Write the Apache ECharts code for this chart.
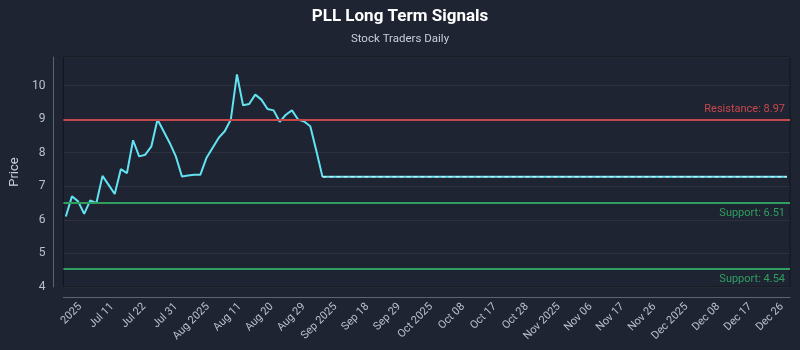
<!DOCTYPE html>
<html>
<head>
<meta charset="utf-8">
<script src="https://cdn.jsdelivr.net/npm/echarts@6/dist/echarts.min.js"></script>
<style>
  html, body { margin: 0; padding: 0; background: #1f2433; }
  #chart { width: 800px; height: 350px; }
</style>
</head>
<body>
<div id="chart"></div>
<script>
// x labels as they appear under the axis (one every ~5 trading steps)
const tickLabels = ["2025", "Jul 11", "Jul 22", "Jul 31", "Aug 2025", "Aug 11", "Aug 20", "Aug 29",
  "Sep 2025", "Sep 18", "Sep 29", "Oct 2025", "Oct 08", "Oct 17", "Oct 28", "Nov 2025",
  "Nov 06", "Nov 17", "Nov 26", "Dec 2025", "Dec 08", "Dec 17", "Dec 26"];

// daily closes, one per step
const history = [6.10, 6.70, 6.55, 6.18, 6.58, 6.50, 7.31, 7.04, 6.77, 7.51,
  7.39, 8.37, 7.89, 7.94, 8.19, 8.99, 8.64, 8.29, 7.89, 7.29,
  7.32, 7.34, 7.34, 7.84, 8.14, 8.44, 8.64, 8.99, 10.33, 9.41,
  9.45, 9.73, 9.58, 9.30, 9.26, 8.92, 9.13, 9.26, 8.99, 8.93,
  8.79, 8.05, 7.28];

// flat projection [step, price]
const projection = [[42, 7.28], [118, 7.28]];

const resistance = 8.97;
const supports = [6.51, 4.54];

const FONT = "Roboto";
const chart = echarts.init(document.getElementById("chart"), null, { renderer: "canvas" });

const levelLine = (value, color, label, pos) => ({
  yAxis: value,
  lineStyle: { color: color, width: 2, type: "solid" },
  label: {
    show: true,
    position: pos,
    formatter: label,
    color: color,
    fontSize: 11,
    fontFamily: FONT,
  },
});

chart.setOption({
  backgroundColor: "#1f2433",
  animation: false,
  textStyle: { fontFamily: FONT },
  title: {
    text: "PLL Long Term Signals",
    subtext: "Stock Traders Daily",
    left: "center",
    top: 3,
    itemGap: 8,
    textStyle: { color: "#ffffff", fontSize: 17, fontWeight: "bold", fontFamily: FONT },
    subtextStyle: { color: "#c9ced8", fontSize: 11.5, fontFamily: FONT },
  },
  grid: {
    left: 60,
    right: 10,
    top: 57,
    bottom: 63,
    show: true,
    borderColor: "#12151d",
    borderWidth: 1,
    backgroundColor: "transparent",
  },
  xAxis: [
    {
      // data steps
      type: "value",
      min: -0.4,
      max: 118.5,
      show: false,
      splitLine: { show: false },
    },
    {
      // date labels
      type: "value",
      position: "bottom",
      offset: 10,
      min: -0.53,
      max: 22.25,
      axisLine: { show: true, onZero: false, lineStyle: { color: "#5d6476", width: 1 } },
      axisTick: { show: false },
      splitLine: { show: false },
      axisLabel: {
        customValues: tickLabels.map((_, i) => i),
        formatter: (v) => tickLabels[Math.round(v)],
        rotate: 45,
        color: "#b9c0cc",
        fontSize: 11,
        margin: 8,
      },
    },
  ],
  yAxis: {
    type: "value",
    min: 4,
    max: 10.85,
    interval: 1,
    offset: 10,
    name: "Price",
    nameLocation: "middle",
    nameGap: 30,
    nameTextStyle: { color: "#c9ced8", fontSize: 13 },
    axisLine: { show: true, onZero: false, lineStyle: { color: "#5d6476", width: 1 } },
    axisTick: { show: false },
    axisLabel: { color: "#b9c0cc", fontSize: 12, showMaxLabel: false, margin: 8 },
    splitLine: { show: true, lineStyle: { color: "rgba(255,255,255,0.06)", width: 1 } },
  },
  series: [
    {
      name: "Price",
      type: "line",
      xAxisIndex: 0,
      data: history.map((v, i) => [i, v]),
      showSymbol: false,
      lineStyle: { color: "#62e3f2", width: 2 },
      z: 3,
      markLine: {
        symbol: "none",
        silent: true,
        data: [
          levelLine(resistance, "#c8474b", "Resistance: " + resistance, "insideEndTop"),
          levelLine(supports[0], "#2f9e5e", "Support: " + supports[0], "insideEndBottom"),
          levelLine(supports[1], "#2f9e5e", "Support: " + supports[1], "insideEndBottom"),
        ],
      },
    },
    {
      name: "Projection",
      type: "line",
      xAxisIndex: 0,
      data: projection,
      showSymbol: false,
      lineStyle: { color: "#62e3f2", width: 2 },
      z: 3,
    },
    {
      name: "Projection dash",
      type: "line",
      xAxisIndex: 0,
      data: projection,
      showSymbol: false,
      lineStyle: { color: "rgba(255,255,255,0.85)", width: 1, type: [4, 3] },
      z: 4,
    },
  ],
});
</script>
</body>
</html>
